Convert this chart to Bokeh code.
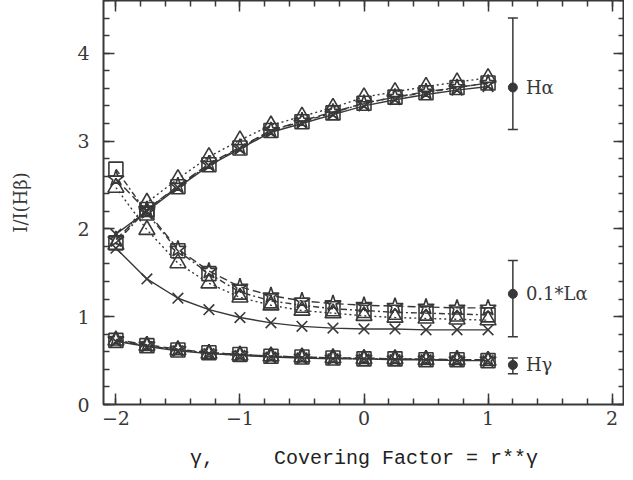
from bokeh.plotting import figure
from bokeh.models import LinearAxis, SingleIntervalTicker, Whisker, ColumnDataSource, TeeHead
from bokeh.core.properties import value
from bokeh.embed import file_html
from bokeh.resources import INLINE

# ---- data ----
gamma = [-2, -1.75, -1.5, -1.25, -1, -0.75, -0.5, -0.25, 0, 0.25, 0.5, 0.75, 1]

ha_square = [1.84, 2.22, 2.48, 2.73, 2.92, 3.12, 3.22, 3.32, 3.43, 3.50, 3.55, 3.61, 3.66]
ha_star = [1.88, 2.22, 2.49, 2.74, 2.93, 3.12, 3.23, 3.33, 3.43, 3.50, 3.56, 3.61, 3.66]
ha_tri = [1.82, 2.30, 2.57, 2.82, 3.01, 3.18, 3.28, 3.38, 3.50, 3.56, 3.62, 3.67, 3.72]
ha_x = [1.94, 2.20, 2.47, 2.72, 2.91, 3.10, 3.20, 3.30, 3.40, 3.47, 3.53, 3.58, 3.62]

la_square = [2.68, 2.18, 1.75, 1.49, 1.28, 1.18, 1.13, 1.09, 1.07, 1.05, 1.04, 1.03, 1.02]
la_star = [2.57, 2.20, 1.77, 1.52, 1.34, 1.24, 1.18, 1.15, 1.13, 1.12, 1.11, 1.10, 1.10]
la_tri = [2.47, 1.99, 1.61, 1.38, 1.22, 1.13, 1.07, 1.04, 1.01, 0.99, 0.98, 0.97, 0.96]
la_x = [1.78, 1.43, 1.21, 1.08, 0.99, 0.93, 0.89, 0.87, 0.86, 0.86, 0.85, 0.85, 0.85]

hg_square = [0.73, 0.67, 0.62, 0.59, 0.57, 0.55, 0.54, 0.53, 0.52, 0.52, 0.51, 0.51, 0.50]
hg_star = [0.74, 0.68, 0.63, 0.59, 0.57, 0.55, 0.54, 0.53, 0.53, 0.52, 0.52, 0.51, 0.51]
hg_tri = [0.73, 0.67, 0.62, 0.58, 0.56, 0.55, 0.54, 0.53, 0.52, 0.52, 0.51, 0.51, 0.50]
hg_x = [0.72, 0.66, 0.61, 0.58, 0.56, 0.54, 0.53, 0.52, 0.52, 0.51, 0.51, 0.50, 0.50]

err_labels = ["H\u03b1", "0.1*L\u03b1", "H\u03b3"]
err_x = [1.2, 1.2, 1.2]
err_center = [3.61, 1.26, 0.45]
err_upper = [4.40, 1.64, 0.53]
err_lower = [3.13, 0.77, 0.35]

INK = "#383838"
SERIF = "DejaVu Serif"

p = figure(width=624, height=472, x_range=(-2.1, 2.1), y_range=(0, 4.6),
           output_backend="svg", toolbar_location=None,
           min_border_left=103, min_border_right=0, min_border_top=0, min_border_bottom=57)
p.xgrid.visible = False
p.ygrid.visible = False
p.outline_line_color = INK
p.outline_line_width = 2
p.background_fill_color = "white"
p.border_fill_color = "white"


def style_axis(ax, show_labels=True):
    ax.ticker = SingleIntervalTicker(interval=1, num_minor_ticks=5)
    ax.axis_line_color = None
    ax.major_tick_in = 11
    ax.major_tick_out = 0
    ax.minor_tick_in = 6
    ax.minor_tick_out = 0
    ax.major_tick_line_color = INK
    ax.minor_tick_line_color = INK
    ax.major_tick_line_width = 1.5
    ax.minor_tick_line_width = 1.5
    ax.major_label_text_font = SERIF
    if show_labels:
        ax.major_label_text_font_size = "19px"
        ax.major_label_text_color = INK
    else:
        ax.major_label_text_font_size = "1px"
        ax.major_label_text_color = None
        ax.major_label_standoff = 0


style_axis(p.xaxis[0])
style_axis(p.yaxis[0])
p.xaxis[0].major_label_standoff = 6
p.yaxis[0].major_label_standoff = 14

p.xaxis[0].axis_label = "\u03b3,\u00a0\u00a0\u00a0\u00a0\u00a0Covering Factor = r**\u03b3"
p.xaxis[0].axis_label_text_font = "Liberation Mono"
p.xaxis[0].axis_label_text_font_size = "20px"
p.xaxis[0].axis_label_text_font_style = "normal"
p.xaxis[0].axis_label_text_color = "#222222"
p.xaxis[0].axis_label_standoff = 19

p.yaxis[0].axis_label = "I/I(H\u03b2)"
p.yaxis[0].axis_label_text_font = SERIF
p.yaxis[0].axis_label_text_font_size = "18px"
p.yaxis[0].axis_label_text_font_style = "normal"
p.yaxis[0].axis_label_text_color = INK
p.yaxis[0].axis_label_standoff = 43

top = LinearAxis()
style_axis(top, show_labels=False)
p.add_layout(top, "above")
right = LinearAxis()
style_axis(right, show_labels=False)
p.add_layout(right, "right")

series = [
    # (values, marker, dash)
    (ha_star, "star", "8 4"), (ha_square, "square", "6 3 2 3"), (ha_tri, "triangle", "2 3"), (ha_x, "x", "solid"),
    (la_star, "star", "8 4"), (la_square, "square", "6 3 2 3"), (la_tri, "triangle", "2 3"), (la_x, "x", "solid"),
    (hg_star, "star", "8 4"), (hg_square, "square", "6 3 2 3"), (hg_tri, "triangle", "2 3"), (hg_x, "x", "solid"),
]
sizes = {"star": 17, "square": 14, "triangle": 16, "x": 15}
for vals, marker, dash in series:
    p.line(gamma, vals, line_color=INK, line_width=1.4, line_dash=dash)
for vals, marker, dash in series:
    p.scatter(gamma, vals, marker=marker, size=sizes[marker], fill_color=None,
              line_color=INK, line_width=1.6)

src = ColumnDataSource(dict(x=err_x, c=err_center, up=err_upper, lo=err_lower,
                            lab=err_labels, tx=[v + 0.105 for v in err_x]))
w = Whisker(base="x", upper="up", lower="lo", source=src, dimension="height",
            line_color=INK, line_width=1.5,
            upper_head=TeeHead(size=10, line_color=INK, line_width=1.5),
            lower_head=TeeHead(size=10, line_color=INK, line_width=1.5))
p.add_layout(w)
p.scatter("x", "c", source=src, size=9, fill_color=INK, line_color=INK)
p.text("tx", "c", text="lab", source=src, text_font=value(SERIF), text_font_size="18px",
       text_baseline="middle", text_align="left", text_color=INK)

open("out.html", "w").write(file_html(p, INLINE))
